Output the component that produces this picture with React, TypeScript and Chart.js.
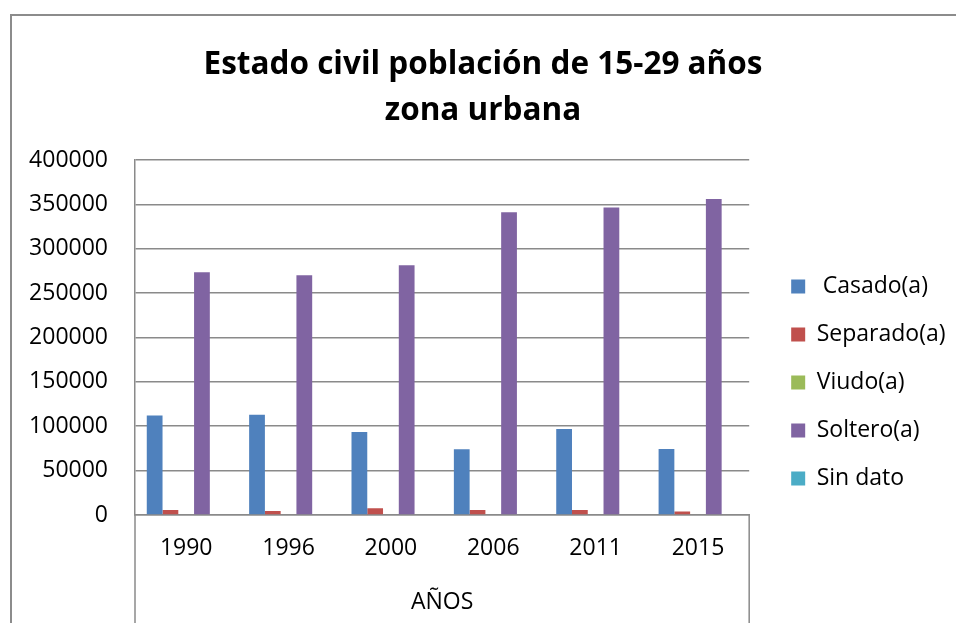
import React, { useEffect, useRef } from 'react';
import { Chart, registerables } from 'chart.js';

Chart.register(...registerables);

const categories = ['1990', '1996', '2000', '2006', '2011', '2015'];
const casado = [112000, 113000, 93500, 74000, 97000, 74500];
const separado = [5500, 4500, 7500, 5500, 5500, 4000];
const viudo = [0, 0, 0, 0, 0, 0];
const soltero = [273500, 270000, 281500, 341000, 346500, 356000];
const sinDato = [0, 0, 0, 0, 0, 0];
const seriesNames = [' Casado(a)', 'Separado(a)', 'Viudo(a)', 'Soltero(a)', 'Sin dato'];
const seriesColors = ['#4F81BD', '#C0504D', '#9BBB59', '#8064A2', '#4BACC6'];
const titleLines = ['Estado civil población de 15-29 años', 'zona urbana'];
const xAxisTitle = 'AÑOS';
const yMin = 0;
const yMax = 400000;
const yStep = 50000;

const FONT = 'Open Sans';
const GRID = '#8a8a8a';

const framePlugin = {
  id: 'frame',
  beforeDraw(chart: any) {
    const ctx = chart.ctx;
    ctx.save();
    ctx.fillStyle = '#ffffff';
    ctx.fillRect(0, 0, chart.width, chart.height);
    ctx.strokeStyle = '#8c8c8c';
    ctx.lineWidth = 2;
    ctx.strokeRect(11, 15, chart.width + 50, chart.height + 50);
    ctx.restore();
  },
  afterDraw(chart: any) {
    const ctx = chart.ctx;
    const a = chart.chartArea;
    ctx.save();
    ctx.strokeStyle = GRID;
    ctx.lineWidth = 1.5;
    ctx.beginPath();
    ctx.moveTo(a.left, a.bottom);
    ctx.lineTo(a.left, chart.height);
    ctx.moveTo(a.right, a.bottom);
    ctx.lineTo(a.right, chart.height);
    ctx.stroke();
    ctx.restore();
  },
};

export default function App() {
  const ref = useRef<HTMLCanvasElement | null>(null);

  useEffect(() => {
    if (!ref.current) return;
    Chart.defaults.font.family = FONT;
    Chart.defaults.color = '#000';
    const data = [casado, separado, viudo, soltero, sinDato];
    const chart = new Chart(ref.current, {
      type: 'bar',
      data: {
        labels: categories,
        datasets: data.map((d, i) => ({
          label: seriesNames[i],
          data: d,
          backgroundColor: seriesColors[i],
          borderWidth: 0,
          categoryPercentage: 0.77,
          barPercentage: 1,
          yAxisID: 'y',
        })),
      },
      options: {
        responsive: false,
        animation: false,
        devicePixelRatio: 1,
        layout: { padding: { left: 10.5, right: 0.5, top: 15, bottom: 0 } },
        plugins: {
          tooltip: { enabled: false },
          title: {
            display: true,
            text: titleLines,
            color: '#000',
            font: { family: FONT, size: 31.5, weight: 'bold', lineHeight: 1.46 },
            padding: { top: 27, bottom: 26 },
          },
          legend: {
            display: true,
            position: 'right',
            align: 'end',
            fullSize: false,
            maxWidth: 400,
            labels: {
              boxWidth: 14,
              boxHeight: 14,
              padding: 25,
              color: '#000',
              font: { family: FONT, size: 23 },
            },
          },
        },
        scales: {
          x: {
            offset: true,
            grid: { display: false, drawTicks: false },
            border: { display: true, color: GRID, width: 1.5 },
            ticks: { padding: 20, font: { family: FONT, size: 23 }, color: '#000', maxRotation: 0, autoSkip: false },
            title: {
              display: true,
              text: xAxisTitle,
              color: '#000',
              font: { family: FONT, size: 23 },
              padding: { top: 0, bottom: 7 },
            },
            afterFit: (s: any) => { s.height = 108; },
          },
          y: {
            min: yMin,
            max: yMax,
            ticks: {
              stepSize: yStep,
              padding: 27,
              font: { family: FONT, size: 23 },
              color: '#000',
              callback: (v: any) => String(v),
            },
            grid: { color: GRID, lineWidth: 1.5, drawTicks: false },
            border: { display: true, color: GRID, width: 1.5 },
            afterFit: (s: any) => { s.width = 124.5; },
          },
          yPad: {
            type: 'linear',
            position: 'right',
            display: true,
            grid: { display: false, drawTicks: false },
            border: { display: false },
            ticks: { display: false },
            afterFit: (s: any) => { s.width = 17; },
          },
        },
      } as any,
      plugins: [framePlugin],
    });
    return () => chart.destroy();
  }, []);

  return (
    <canvas
      ref={ref}
      width={956}
      height={623}
      style={{ position: 'fixed', left: 0, top: 0, width: 956, height: 623 }}
    />
  );
}
